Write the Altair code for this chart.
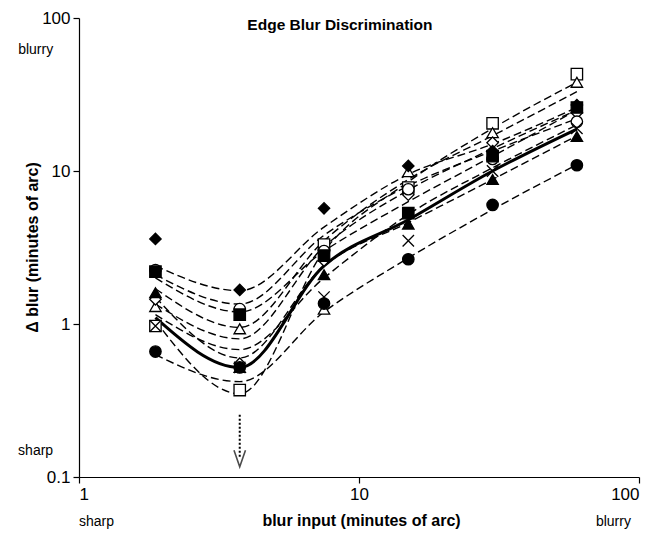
import altair as alt
import pandas as pd

# ---------------- data ----------------
X_VALUES = [1.875, 3.75, 7.5, 15, 30, 60]

# open markers listed first so the filled ones are drawn on top
SUBJECTS = ["open square", "open triangle", "open diamond", "open circle", "cross",
            "filled diamond", "filled square", "filled triangle", "filled circle"]

# measured points (delta blur) per subject
PTS_OPEN_SQUARE = [0.97, 0.37, 3.3, 7.8, 20.5, 43]
PTS_OPEN_TRIANGLE = [1.3, 0.93, 1.25, 9.9, 17.8, 38]
PTS_OPEN_DIAMOND = [1.45, 0.55, 2.6, 7.0, 15.3, 24]
PTS_OPEN_CIRCLE = [2.25, 1.25, 3.0, 7.6, 12.0, 21]
PTS_CROSS = [0.97, 0.52, 1.5, 3.5, 10.0, 19]
PTS_FILLED_DIAMOND = [3.6, 1.67, 5.7, 10.8, 13.5, 27]
PTS_FILLED_SQUARE = [2.2, 1.15, 2.8, 5.3, 12.5, 26]
PTS_FILLED_TRIANGLE = [1.6, 0.52, 2.1, 4.5, 8.8, 16.8]
PTS_FILLED_CIRCLE = [0.66, 0.52, 1.36, 2.65, 6.0, 10.9]

# fitted (dashed) curves per subject, read at the same blur inputs
FIT_OPEN_SQUARE = [1.05, 0.35, 3.0, 8.5, 19.0, 38]
FIT_OPEN_TRIANGLE = [1.7, 0.95, 3.5, 8.8, 17.0, 33]
FIT_OPEN_DIAMOND = [1.35, 0.8, 3.2, 7.5, 14.0, 25]
FIT_OPEN_CIRCLE = [2.1, 1.35, 3.8, 8.0, 13.5, 22]
FIT_CROSS = [1.15, 0.68, 2.0, 5.2, 10.5, 20]
FIT_FILLED_DIAMOND = [2.4, 1.65, 4.3, 9.5, 15.0, 26]
FIT_FILLED_SQUARE = [2.0, 1.2, 3.0, 6.3, 12.5, 25]
FIT_FILLED_TRIANGLE = [1.5, 0.6, 2.4, 4.6, 8.8, 17]
FIT_FILLED_CIRCLE = [0.63, 0.42, 1.2, 2.7, 5.6, 11]

# mean curve (thick solid)
FIT_MEAN = [1.1, 0.52, 2.4, 4.8, 10.0, 18.8]

# arrow marking the minimum
ARROW_X = [3.75]
ARROW_Y_TOP = [0.255]
ARROW_Y_HEAD = [0.132]

SHAPE_RANGE = ["square", "triangle-up", "diamond", "circle", "M-1,-1L1,1M-1,1L1,-1",
               "diamond", "square", "triangle-up", "circle"]
FILL_RANGE = ["white", "white", "white", "white", "white",
              "black", "black", "black", "black"]

PTS = [PTS_OPEN_SQUARE, PTS_OPEN_TRIANGLE, PTS_OPEN_DIAMOND, PTS_OPEN_CIRCLE, PTS_CROSS,
       PTS_FILLED_DIAMOND, PTS_FILLED_SQUARE, PTS_FILLED_TRIANGLE, PTS_FILLED_CIRCLE]
FITS = [FIT_OPEN_SQUARE, FIT_OPEN_TRIANGLE, FIT_OPEN_DIAMOND, FIT_OPEN_CIRCLE, FIT_CROSS,
        FIT_FILLED_DIAMOND, FIT_FILLED_SQUARE, FIT_FILLED_TRIANGLE, FIT_FILLED_CIRCLE]

rows_p, rows_f = [], []
for s, p, f in zip(SUBJECTS, PTS, FITS):
    for xv, pv, fv in zip(X_VALUES, p, f):
        rows_p.append({"subject": s, "x": xv, "y": pv})
        rows_f.append({"subject": s, "x": xv, "y": fv})
df_pts = pd.DataFrame(rows_p)
df_fit = pd.DataFrame(rows_f)
df_mean = pd.DataFrame({"x": X_VALUES, "y": FIT_MEAN})
df_arrow = pd.DataFrame({"x": ARROW_X, "y": ARROW_Y_TOP, "y2": ARROW_Y_HEAD})

ANN_TEXT = ["Edge Blur Discrimination", "blurry", "sharp", "sharp", "blurry"]
ANN_X = [8.55, 0.70, 0.70, 1.0, 93.6]
ANN_Y = [90.0, 62.0, 0.148, 0.051, 0.051]
ANN_ALIGN = ["center", "center", "center", "left", "right"]
ANN_BOLD = ["bold", "normal", "normal", "normal", "normal"]
ANN_SIZE = [15.5, 14, 14, 14, 14]

FONT = "Liberation Sans"

x_scale = alt.Scale(type="log", domain=[1, 100], nice=False)
y_scale = alt.Scale(type="log", domain=[0.1, 100], nice=False)

x_axis = alt.Axis(values=[1, 10, 100], format="~g", title="blur input (minutes of arc)",
                  grid=False, titleY=43, titleBaseline="middle", titleX=282)
y_axis = alt.Axis(values=[0.1, 1, 10, 100], format="~g", title="Δ  blur (minutes of arc)",
                  grid=False, titleX=-47, titleY=229, titleBaseline="middle",
                  titleAlign="center", titleAngle=270)

X = alt.X("x:Q", scale=x_scale, axis=x_axis)
Y = alt.Y("y:Q", scale=y_scale, axis=y_axis)

fits = alt.Chart(df_fit).mark_line(
    color="black", strokeWidth=1.4, strokeDash=[8, 4], interpolate="monotone"
).encode(x=X, y=Y, detail="subject:N")

mean = alt.Chart(df_mean).mark_line(
    color="black", strokeWidth=3, interpolate="monotone"
).encode(x="x:Q", y="y:Q")

points = alt.Chart(df_pts).mark_point(
    filled=True, size=130, stroke="black", strokeWidth=1.3, opacity=1
).encode(
    x="x:Q", y="y:Q",
    shape=alt.Shape("subject:N", scale=alt.Scale(domain=SUBJECTS, range=SHAPE_RANGE), legend=None),
    fill=alt.Fill("subject:N", scale=alt.Scale(domain=SUBJECTS, range=FILL_RANGE), legend=None),
)

arrow_line = alt.Chart(df_arrow).mark_rule(
    color="black", strokeWidth=2, strokeDash=[2, 2]
).encode(x="x:Q", y="y:Q", y2="y2:Q")

arrow_head = alt.Chart(df_arrow).mark_point(
    shape="M-0.7,-1L0,1L0.7,-1", size=270, filled=False, stroke="black", strokeWidth=1.6
).encode(x="x:Q", y="y2:Q")

ann_layers = []
for t, xv, yv, al, wt, sz in zip(ANN_TEXT, ANN_X, ANN_Y, ANN_ALIGN, ANN_BOLD, ANN_SIZE):
    d = pd.DataFrame({"x": [xv], "y": [yv], "text": [t]})
    ann_layers.append(
        alt.Chart(d).mark_text(font=FONT, color="black", baseline="middle",
                               align=al, fontWeight=wt, fontSize=sz)
        .encode(x="x:Q", y="y:Q", text="text:N")
    )

chart = alt.layer(fits, mean, arrow_line, arrow_head, points, *ann_layers).properties(
    width=560, height=459,
    autosize=alt.AutoSizeParams(type="none"),
    padding={"left": 71, "top": 10, "right": 22, "bottom": 52},
).configure_view(stroke=None).configure_axis(
    domainColor="black", tickColor="black", labelColor="black", titleColor="black",
    labelFont=FONT, titleFont=FONT, labelFontSize=17, titleFontSize=16,
    titleFontWeight="bold", tickSize=6, labelPadding=3, domainWidth=1.2, tickWidth=1.2,
)

chart.save("out.html", embed_options={"renderer": "svg", "actions": False})
